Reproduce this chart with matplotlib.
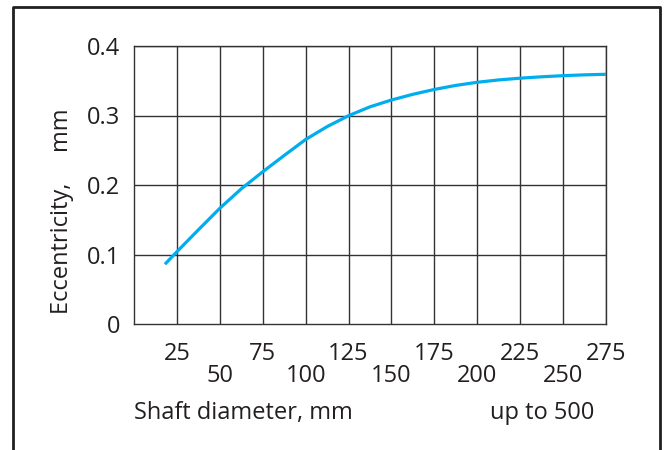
import matplotlib
matplotlib.use("Agg")
import matplotlib.pyplot as plt
import matplotlib.transforms as mtransforms
from matplotlib.lines import Line2D

# Data
diameter = [18, 25, 37.5, 50, 62.5, 75, 87.5, 100, 112.5, 125, 137.5, 150, 162.5,
            175, 187.5, 200, 212.5, 225, 237.5, 250, 262.5, 275]
eccentricity = [0.086, 0.104, 0.1355, 0.1665, 0.1945, 0.219, 0.2425, 0.2655, 0.284, 0.2997,
                0.3125, 0.3223, 0.3305, 0.3375, 0.3433, 0.3478, 0.3512, 0.3537, 0.3557,
                0.3573, 0.3585, 0.3593]
x_upper_ticks = [25, 75, 125, 175, 225, 275]
x_lower_ticks = [50, 100, 150, 200, 250]
y_ticks = [0, 0.1, 0.2, 0.3, 0.4]
y_tick_labels = ["0", "0.1", "0.2", "0.3", "0.4"]

plt.rcParams['font.family'] = ['Open Sans', 'DejaVu Sans']
FS = 17
TXT = '#231f20'

W, H = 667, 450
fig = plt.figure(figsize=(W / 100, H / 100), dpi=100)
ax = fig.add_axes([134 / W, (H - 324) / H, (606 - 134) / W, (324 - 46) / H])

ax.set_xlim(0, 275)
ax.set_ylim(0, 0.4)

grid_c = '#333333'
for xv in x_upper_ticks + x_lower_ticks:
    ax.axvline(xv, color=grid_c, lw=1.0, zorder=1)
for yv in y_ticks[1:]:
    ax.axhline(yv, color=grid_c, lw=1.0, zorder=1)
for s in ax.spines.values():
    s.set_color(grid_c)
    s.set_linewidth(1.0)

ax.plot(diameter, eccentricity, color='#00aeef', lw=2.3, zorder=3,
        solid_capstyle='butt', solid_joinstyle='round')

ax.set_xticks([])
ax.set_yticks(y_ticks)
ax.set_yticklabels(y_tick_labels, fontsize=FS, color=TXT)
ax.tick_params(axis='y', length=0, pad=10)

trans = mtransforms.blended_transform_factory(ax.transData, fig.transFigure)
for xv in x_upper_ticks:
    ax.text(xv, 1 - 354 / H, str(xv), transform=trans, ha='center', va='center', fontsize=FS, color=TXT)
for xv in x_lower_ticks:
    ax.text(xv, 1 - 376 / H, str(xv), transform=trans, ha='center', va='center', fontsize=FS, color=TXT)

fig.text(134 / W, 1 - 413 / H, "Shaft diameter, mm", ha='left', va='center', fontsize=FS, color=TXT)
fig.text(542 / W, 1 - 413 / H, "up to 500", ha='center', va='center', fontsize=FS, color=TXT)
fig.text(62 / W, 1 - 211 / H, "Eccentricity,     mm", rotation=90, ha='center', va='center', fontsize=FS, color=TXT)

# outer frame (open at bottom)
fc = '#231f20'
fig.add_artist(Line2D([13 / W, 13 / W, 660 / W, 660 / W], [0, 1 - 7 / H, 1 - 7 / H, 0],
                      transform=fig.transFigure, color=fc, lw=2.0))

fig.savefig("out.png", dpi=100)
